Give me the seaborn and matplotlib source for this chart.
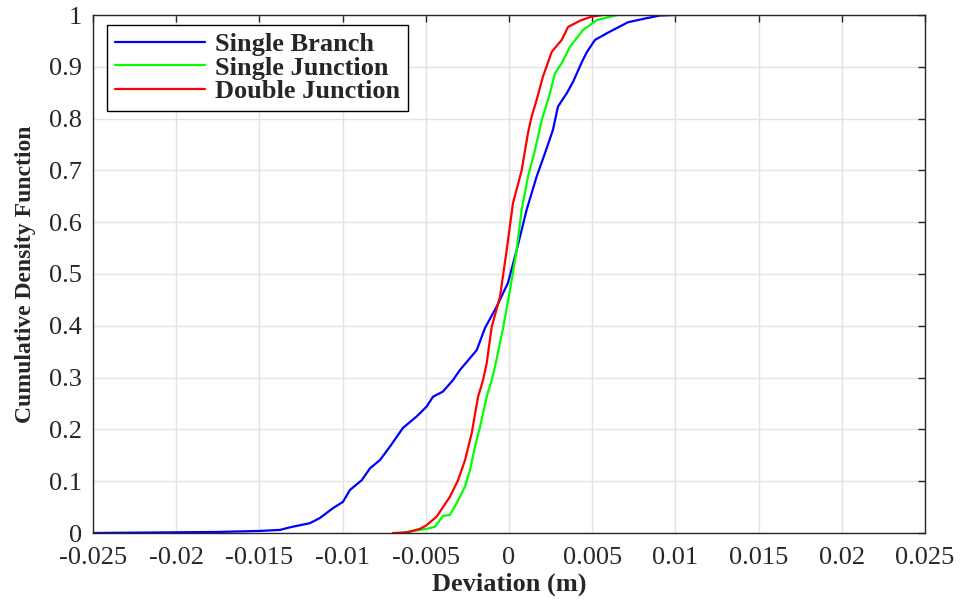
import numpy as np
import pandas as pd
import matplotlib
matplotlib.use("Agg")
import matplotlib.pyplot as plt
import seaborn as sns

# values (deviation in m, cumulative fraction)
branch_x = [-0.025, -0.01757, -0.01496, -0.01376, -0.01316, -0.01196, -0.01136, -0.01058,
            -0.00998, -0.00956, -0.00885, -0.00835, -0.00775, -0.00715, -0.00637, -0.00555,
            -0.00495, -0.00457, -0.00397, -0.00337, -0.00294, -0.00194, -0.00144, -0.00074,
            -0.00006, 0.00046, 0.00106, 0.00166, 0.00216, 0.00264, 0.00294, 0.00347,
            0.00385, 0.00439, 0.00469, 0.00517, 0.00607, 0.00715, 0.00829, 0.00907, 0.00992]
branch_y = [0.0, 0.002, 0.004, 0.006, 0.011, 0.019, 0.029, 0.048,
            0.06, 0.083, 0.102, 0.125, 0.141, 0.167, 0.203, 0.225,
            0.244, 0.263, 0.273, 0.295, 0.315, 0.353, 0.396, 0.437,
            0.483, 0.546, 0.624, 0.688, 0.733, 0.778, 0.823, 0.849,
            0.871, 0.91, 0.929, 0.952, 0.968, 0.986, 0.994, 0.999, 1.0]

sjunc_x = [-0.00655, -0.00495, -0.00445, -0.00397, -0.00355, -0.00314, -0.00264, -0.00234,
           -0.00204, -0.00174, -0.00134, -0.00104, -0.00084, -0.00034, 0.00006, 0.00046,
           0.00076, 0.00114, 0.00156, 0.00197, 0.00246, 0.00276, 0.00317, 0.00367,
           0.00445, 0.00527, 0.00647]
sjunc_y = [0.0, 0.008, 0.012, 0.033, 0.035, 0.058, 0.09, 0.122,
           0.167, 0.205, 0.263, 0.295, 0.321, 0.398, 0.469, 0.546,
           0.624, 0.688, 0.739, 0.797, 0.849, 0.887, 0.907, 0.939,
           0.971, 0.99, 1.0]

djunc_x = [-0.00697, -0.00615, -0.00535, -0.00495, -0.00434, -0.00355, -0.00306, -0.00264,
           -0.00224, -0.00186, -0.00156, -0.00134, -0.00104, -0.00054, -0.00014, 0.00024,
           0.00076, 0.00114, 0.00136, 0.00166, 0.00204, 0.00257, 0.00317, 0.00355,
           0.00427, 0.00497, 0.00565]
djunc_y = [0.0, 0.001, 0.008, 0.015, 0.032, 0.07, 0.102, 0.141,
           0.193, 0.263, 0.295, 0.328, 0.398, 0.456, 0.546, 0.637,
           0.70, 0.772, 0.804, 0.836, 0.881, 0.929, 0.952, 0.977,
           0.989, 0.997, 1.0]

series = ['Single Branch', 'Single Junction', 'Double Junction']
colors = {'Single Branch': '#0000ff', 'Single Junction': '#00ff00', 'Double Junction': '#ff0000'}

df = pd.concat([
    pd.DataFrame({'x': branch_x, 'y': branch_y, 'method': series[0]}),
    pd.DataFrame({'x': sjunc_x, 'y': sjunc_y, 'method': series[1]}),
    pd.DataFrame({'x': djunc_x, 'y': djunc_y, 'method': series[2]}),
], ignore_index=True)

sns.set_style('whitegrid')
plt.rcParams['font.family'] = ['Liberation Serif', 'DejaVu Serif']
plt.rcParams['axes.unicode_minus'] = False

fig = plt.figure(figsize=(9.6, 6.01), dpi=100)
ax = fig.add_axes([93 / 960, 1 - 533 / 601, 832 / 960, 518 / 601])

sns.lineplot(data=df, x='x', y='y', hue='method', hue_order=series, palette=colors,
             sort=False, estimator=None, linewidth=1.6, ax=ax)

ax.set_xlim(-0.025, 0.025)
ax.set_ylim(0, 1)
xt = np.round(np.arange(-0.025, 0.0251, 0.005), 3)
yt = np.round(np.arange(0, 1.01, 0.1), 1)
ax.set_xticks(xt)
ax.set_xticklabels(['%g' % v for v in xt])
ax.set_yticks(yt)
ax.set_yticklabels(['%g' % v for v in yt])
ax.tick_params(direction='in', length=5, width=1, colors='#262626', labelsize=19,
               top=True, right=True)
ax.tick_params(axis='x', pad=10)
ax.tick_params(axis='y', pad=8)
ax.grid(True, color='#e3e3e3', linewidth=1)
for s in ax.spines.values():
    s.set_color('#262626')
    s.set_linewidth(1)

ax.set_xlabel('Deviation (m)', fontsize=19, fontweight='bold', color='#262626', labelpad=3)
ax.set_ylabel('Cumulative Density Function', fontsize=17, fontweight='bold',
              color='#262626', labelpad=9)

leg = ax.legend(loc='upper left', bbox_to_anchor=(0.017, 0.981), fancybox=False,
                framealpha=1, edgecolor='black', handlelength=3.4, handletextpad=0.4,
                borderpad=0.3, labelspacing=0.0, borderaxespad=0,
                prop={'weight': 'bold', 'size': 19})
leg.get_frame().set_linewidth(1)

fig.savefig('out.png', dpi=100)
